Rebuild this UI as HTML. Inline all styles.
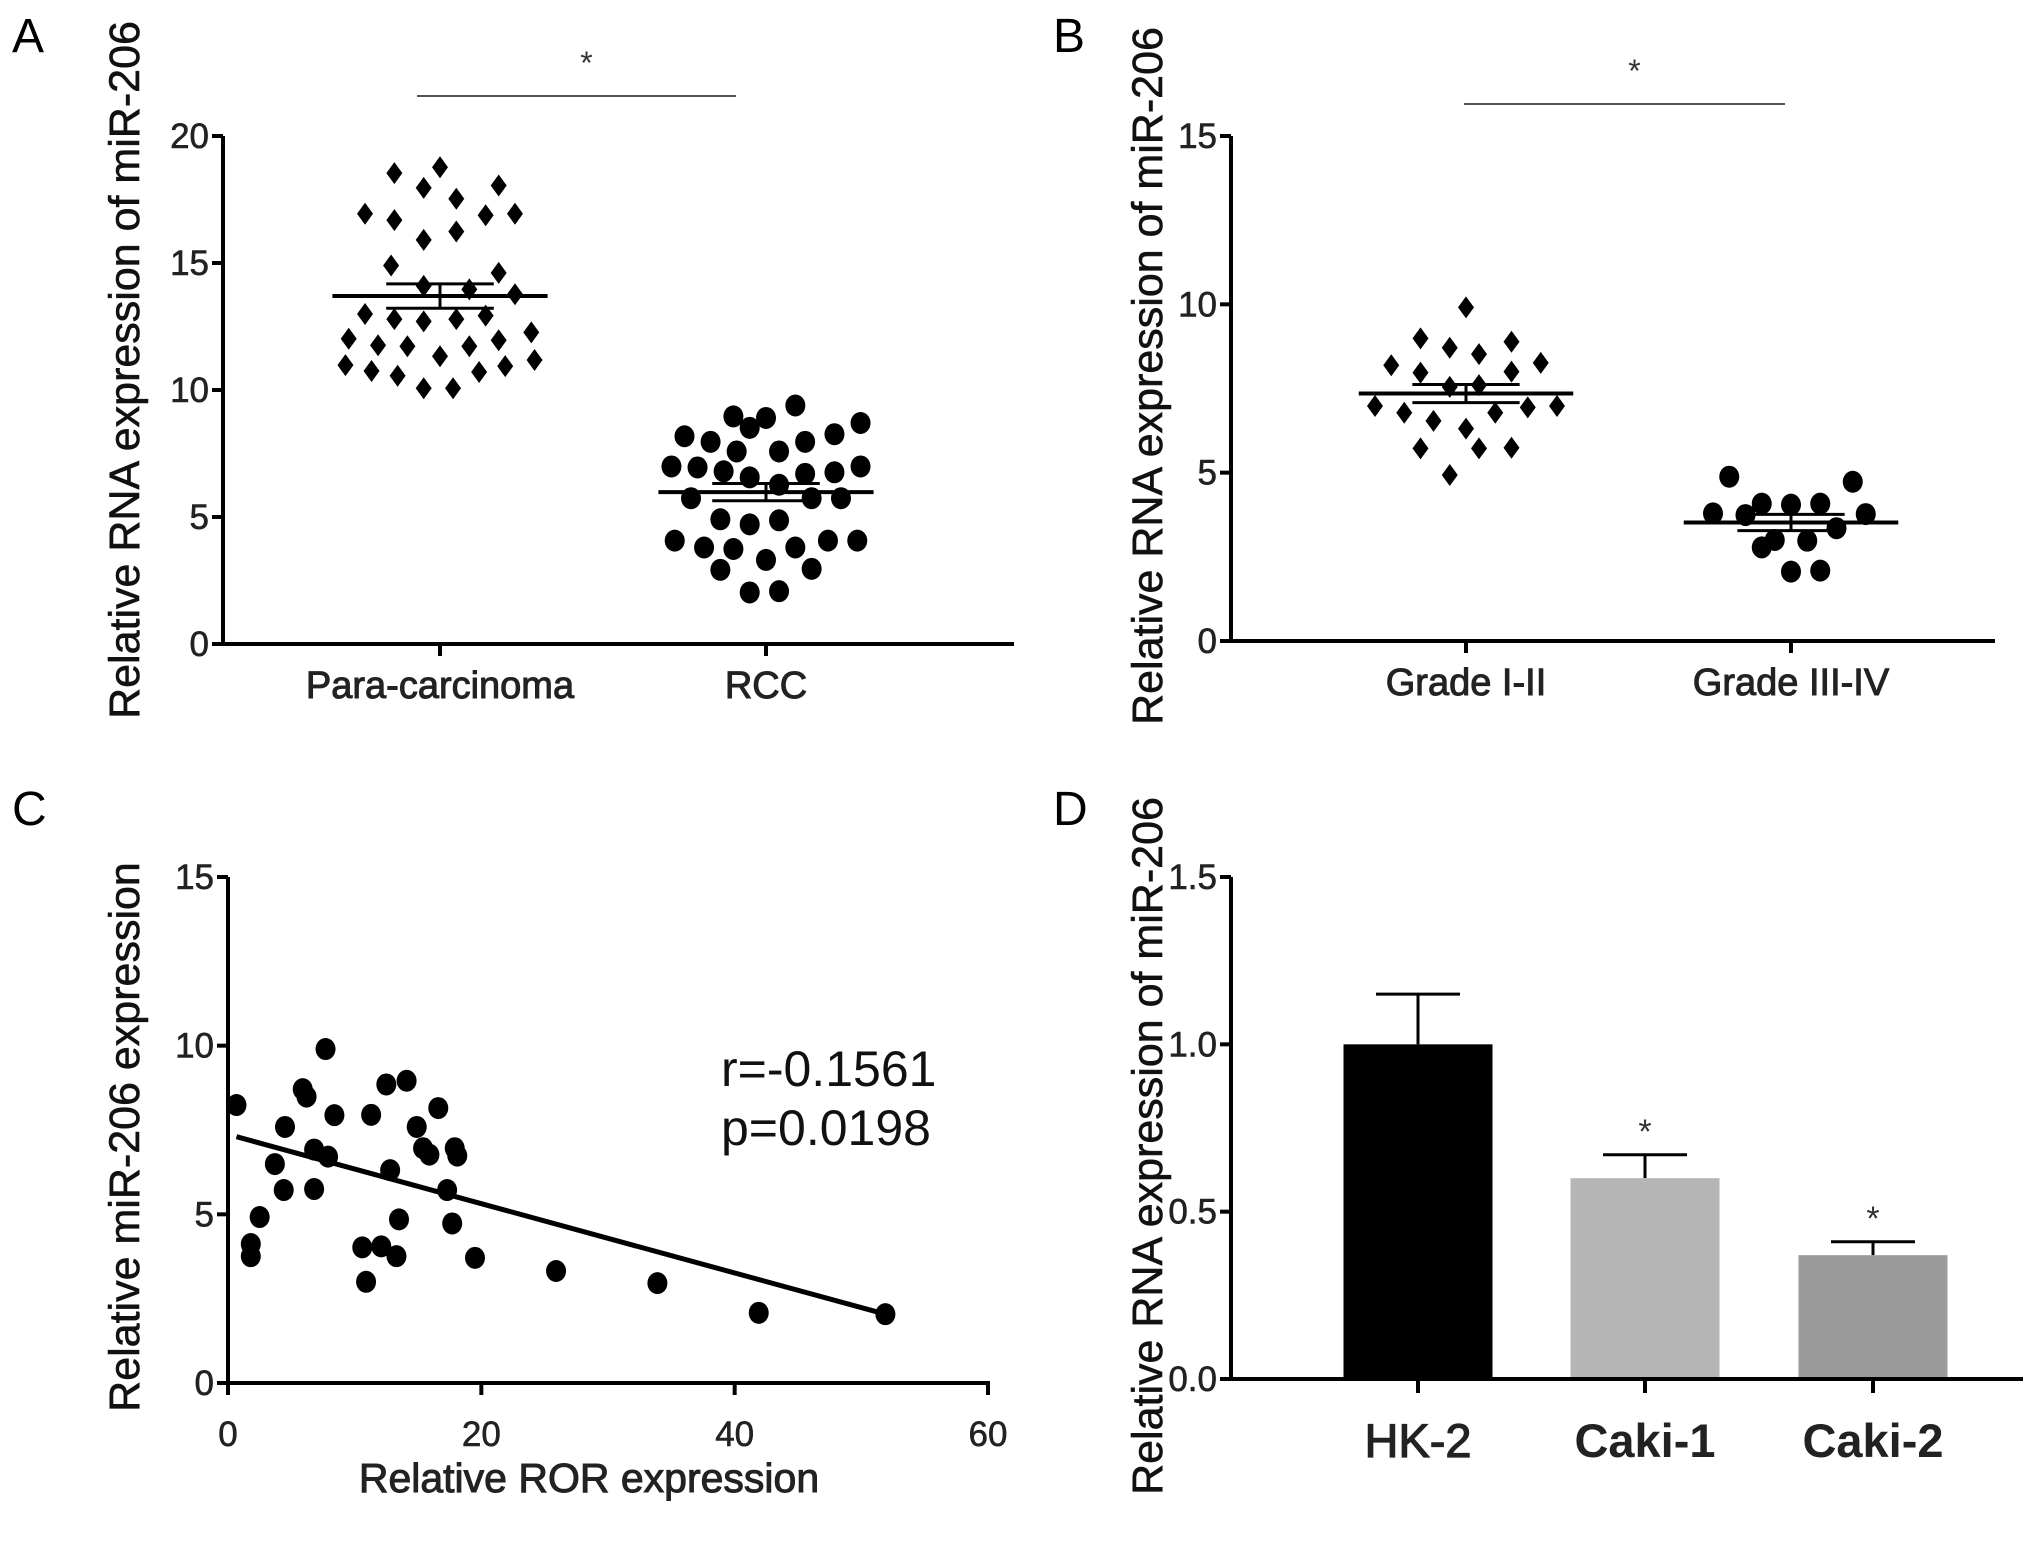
<!DOCTYPE html>
<html><head><meta charset="utf-8">
<style>
html,body{margin:0;padding:0;background:#fff;}
svg{display:block;font-family:"Liberation Sans",Arial,sans-serif;}
</style></head>
<body>
<svg id="fig" width="2031" height="1543" viewBox="0 0 2031 1543" xmlns="http://www.w3.org/2000/svg"></svg>
<script>
// ---- Panel A data ----
const aCategories = ["Para-carcinoma", "RCC"];
const aParaValues = [18.54,18.77,17.96,18.05,17.53,16.94,16.69,16.88,16.94,16.24,15.91,14.90,14.61,14.10,13.96,13.77,12.99,12.79,12.70,12.79,12.93,12.02,11.76,11.72,11.72,11.96,12.27,11.33,10.98,10.75,10.56,10.07,10.07,10.71,10.94,11.18];
const aParaJitter = [-.14,0,-.05,.18,.05,-.23,-.14,.14,.23,.05,-.05,-.15,.18,-.05,.09,.23,-.23,-.14,-.05,.05,.14,-.28,-.19,-.10,.09,.18,.28,0,-.29,-.21,-.13,-.05,.04,.12,.20,.29];
const aRccValues = [8.96,8.90,9.39,8.51,8.18,7.96,7.58,7.58,7.96,8.26,8.70,6.99,6.95,6.80,6.56,6.27,6.70,6.76,6.99,5.74,5.74,5.74,4.91,4.71,4.87,4.07,3.80,3.74,3.31,3.80,4.07,4.07,2.92,2.96,2.03,2.08];
const aRccJitter = [-.10,0,.09,-.05,-.25,-.17,-.09,.04,.12,.21,.29,-.29,-.21,-.13,-.05,.04,.12,.21,.29,-.23,.14,.23,-.14,-.05,.04,-.28,-.19,-.10,0,.09,.19,.28,-.14,.14,-.05,.04];
const aMeans = [13.7, 5.98];
const aSem = [0.48, 0.34];
const aTicks = [0,5,10,15,20];
// ---- Panel B data ----
const bCategories = ["Grade I-II", "Grade III-IV"];
const bLowValues = [9.91,8.99,8.71,8.89,8.52,8.19,7.97,8.0,8.26,7.55,7.60,6.98,6.78,6.78,6.94,6.98,6.54,6.31,5.72,5.72,5.74,4.93];
const bLowJitter = [0,-.14,-.05,.14,.04,-.23,-.14,.14,.23,-.05,.04,-.28,-.19,.09,.19,.28,-.10,0,-.14,.04,.14,-.05];
const bHighValues = [4.88,4.73,3.79,3.74,4.08,4.05,4.08,3.77,3.35,3.0,2.98,2.78,2.06,2.09];
const bHighJitter = [-.19,.19,-.24,-.14,-.09,0,.09,.23,.14,-.05,.05,-.09,0,.09];
const bMeans = [7.35, 3.52];
const bSem = [0.27, 0.24];
const bTicks = [0,5,10,15];
// ---- Panel C data ----
const cX = [0.67,5.9,6.2,4.5,8.4,7.7,12.5,14.1,11.3,16.6,14.9,15.4,15.9,17.9,18.1,3.7,6.8,7.9,12.8,4.4,6.8,17.3,2.5,13.5,17.7,1.8,1.8,10.6,12.1,13.3,19.5,10.9,25.9,33.9,41.9,51.9];
const cY = [8.24,8.71,8.49,7.59,7.94,9.90,8.85,8.96,7.95,8.15,7.59,6.96,6.77,6.96,6.74,6.49,6.92,6.71,6.31,5.72,5.75,5.72,4.92,4.85,4.73,4.12,3.76,4.02,4.05,3.76,3.71,3.0,3.32,2.96,2.08,2.04];
const cFit = {slope:-0.1027, intercept:7.37, xMin:0.67, xMax:51.9};
const cXTicks = [0,20,40,60];
const cYTicks = [0,5,10,15];
// ---- Panel D data ----
const dCategories = ["HK-2","Caki-1","Caki-2"];
const dValues = [1.0, 0.6, 0.37];
const dErrors = [0.15, 0.07, 0.04];
const dSignificant = [false, true, true];
const dTicks = ["0.0","0.5","1.0","1.5"];

const NS="http://www.w3.org/2000/svg";
const svg=document.getElementById('fig');
function mk(tag,attrs,parent,text){
  const e=document.createElementNS(NS,tag);
  for(const k in attrs) e.setAttribute(k,attrs[k]);
  if(text!==undefined) e.textContent=text;
  (parent||svg).appendChild(e);
  return e;
}
function line(x1,y1,x2,y2,w,col,p){return mk('line',{x1,y1,x2,y2,stroke:col||'#000','stroke-width':w},p);}
function lin(d0,d1,r0,r1){return v=>r0+(v-d0)/(d1-d0)*(r1-r0);}

function panelLabel(t,x,y){
  const e=mk('text',{x,y,'font-size':48},svg,t);
  
  
}
function yTitle(t,x,cy,name){
  const e=mk('text',{x:0,y:0,'font-size':43,'text-anchor':'middle',fill:'#111',stroke:'#111','stroke-width':0.6,transform:`translate(${x},${cy}) rotate(-90)`},svg,t);
  
  
}
function yAxis(g,ax,ys,ticks,labels,top,bottom,fs){
  line(ax,top,ax,bottom+2,4,'#000',g);
  ticks.forEach((t,i)=>{
    const y=ys(t);
    line(ax-11,y,ax,y,4,'#000',g);
    const e=mk('text',{x:ax-14,y:y+12,'font-size':fs||35,'text-anchor':'end',fill:'#222',stroke:'#222','stroke-width':0.6},g,labels?labels[i]:String(t));
    
    
  });
}
function scatterPanel(opts){
  const g=mk('g',{});
  
  
  const ys=lin(0,opts.yMax,opts.y0,opts.yTop);
  yAxis(g,opts.ax,ys,opts.ticks,null,opts.yTop,opts.y0);
  line(opts.ax-2,opts.y0,opts.xEnd,opts.y0,4,'#000',g);
  opts.cats.forEach((c,i)=>{
    const cx=opts.catX[i];
    line(cx,opts.y0,cx,opts.y0+12,4,'#000',g);
    const t=mk('text',{x:cx,y:opts.y0+54,'font-size':38,'text-anchor':'middle',fill:'#222',stroke:'#222','stroke-width':1},g,c);
    
    
  });
  const sp=opts.catX[1]-opts.catX[0];
  opts.series.forEach((s,i)=>{
    const cx=opts.catX[i];
    s.vals.forEach((v,j)=>{
      const x=cx+s.jit[j]*sp, y=ys(v);
      let m;
      if(s.shape==='diamond'){
        m=mk('polygon',{points:`${x},${y-11} ${x+8},${y} ${x},${y+11} ${x-8},${y}`,fill:'#000'},g);
      }else{
        m=mk('ellipse',{cx:x,cy:y,rx:10,ry:11,fill:'#000'},g);
      }
      
      
    });
    const my=ys(opts.means[i]);
    const ml=line(cx-0.33*sp,my,cx+0.33*sp,my,4,'#000',g);
    
    
    const hi=ys(opts.means[i]+opts.sem[i]), lo=ys(opts.means[i]-opts.sem[i]);
    line(cx-0.165*sp,hi,cx+0.165*sp,hi,3,'#000',g);
    line(cx-0.165*sp,lo,cx+0.165*sp,lo,3,'#000',g);
    line(cx,hi,cx,lo,3,'#000',g);
  });
  const sl=line(opts.sig[0],opts.sig[2],opts.sig[1],opts.sig[2],2,'#555',g);
  
  
  const st=mk('text',{x:(opts.sig[0]+opts.sig[1])/2+10,y:opts.sig[2]-22,'font-size':32,'text-anchor':'middle',fill:'#333'},g,'*');
  
  
}

// Panel A
panelLabel('A',12,52);
yTitle('Relative RNA expression of miR-206',139,370,'y-axis-title-a');
scatterPanel({name:'panel-a',ax:223,y0:644,yTop:136,yMax:20,xEnd:1014,ticks:aTicks,cats:aCategories,catX:[440,766],
  series:[{vals:aParaValues,jit:aParaJitter,shape:'diamond'},{vals:aRccValues,jit:aRccJitter,shape:'circle'}],
  means:aMeans,sem:aSem,sig:[417,736,96]});

// Panel B
panelLabel('B',1053,52);
yTitle('Relative RNA expression of miR-206',1162,376,'y-axis-title-b');
scatterPanel({name:'panel-b',ax:1231,y0:641,yTop:136,yMax:15,xEnd:1995,ticks:bTicks,cats:bCategories,catX:[1466,1791],
  series:[{vals:bLowValues,jit:bLowJitter,shape:'diamond'},{vals:bHighValues,jit:bHighJitter,shape:'circle'}],
  means:bMeans,sem:bSem,sig:[1464,1785,104]});

// Panel C
panelLabel('C',12,825);
yTitle('Relative miR-206 expression',139,1137,'y-axis-title-c');
(function(){
  const g=mk('g',{});
  
  
  const ax=228,y0=1383,yTop=877,xR=988;
  const xs=lin(0,60,ax,xR), ys=lin(0,15,y0,yTop);
  yAxis(g,ax,ys,cYTicks,null,yTop,y0);
  line(ax-2,y0,xR+2,y0,4,'#000',g);
  cXTicks.forEach(t=>{
    const x=xs(t);
    line(x,y0,x,y0+12,4,'#000',g);
    const e=mk('text',{x:x,y:1446,'font-size':35,'text-anchor':'middle',fill:'#222',stroke:'#222','stroke-width':0.6},g,String(t));
    
    
  });
  const xt=mk('text',{x:589,y:1492,'font-size':41,'text-anchor':'middle',fill:'#222',stroke:'#222','stroke-width':1},g,'Relative ROR expression');
  
  
  cX.forEach((v,i)=>{
    const p=mk('ellipse',{cx:xs(v),cy:ys(cY[i]),rx:10,ry:11,fill:'#000'},g);
    
    
  });
  const rl=line(xs(cFit.xMin),ys(cFit.intercept+cFit.slope*cFit.xMin),xs(cFit.xMax),ys(cFit.intercept+cFit.slope*cFit.xMax),5,'#000',g);
  
  
  const r=mk('text',{x:721,y:1086,'font-size':50,fill:'#111'},g,'r=-0.1561');
  
  
  const pv=mk('text',{x:721,y:1145,'font-size':50,fill:'#111'},g,'p=0.0198');
  
  
})();

// Panel D
panelLabel('D',1053,825);
yTitle('Relative RNA expression of miR-206',1162,1146,'y-axis-title-d');
(function(){
  const g=mk('g',{});
  
  
  const ax=1231,y0=1379,yTop=877,xR=2023;
  const ys=lin(0,1.5,y0,yTop);
  const barX=[1418,1645,1873], bw=149, colors=['#000','#b5b5b5','#9b9b9b'];
  yAxis(g,ax,ys,dTicks.map(Number),dTicks,yTop,y0);
  dValues.forEach((v,i)=>{
    const cx=barX[i], top=ys(v), et=ys(v+dErrors[i]);
    line(cx,top,cx,et,3,'#000',g);
    line(cx-42,et,cx+42,et,3,'#000',g);
    const b=mk('rect',{x:cx-bw/2,y:top,width:bw,height:y0-top,fill:colors[i]},g);
    
    
    if(dSignificant[i]){
      const s=mk('text',{x:cx,y:et-12,'font-size':34,'text-anchor':'middle',fill:'#333'},g,'*');
      
      
    }
    line(cx,y0,cx,y0+14,4,'#000',g);
    const t=mk('text',{x:cx,y:1457,'font-size':47,'font-weight':i?'bold':'normal','text-anchor':'middle',fill:'#222',stroke:'#222','stroke-width':i?0:1.2},g,dCategories[i]);
    
    
  });
  line(ax-2,y0,xR,y0,4,'#000',g);
})();
</script>
</body></html>
